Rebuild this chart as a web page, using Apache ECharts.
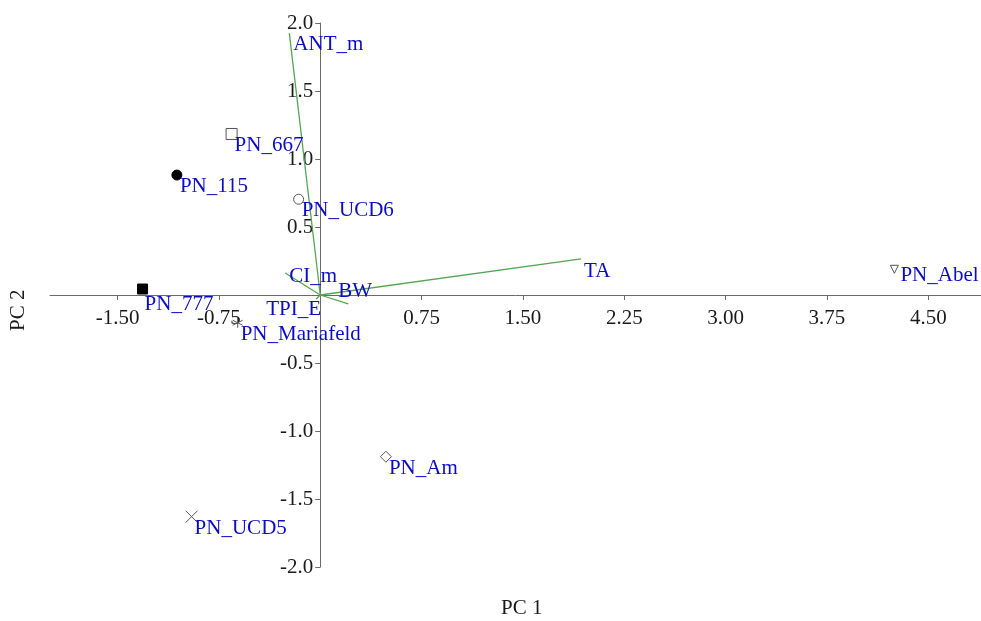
<!DOCTYPE html>
<html>
<head>
<meta charset="utf-8">
<script src="https://cdn.jsdelivr.net/npm/echarts@6/dist/echarts.min.js"></script>
<style>
html,body{margin:0;padding:0;background:#fff;}
#chart{width:981px;height:621px;}
</style>
</head>
<body>
<div id="chart"></div>
<script>
// ---- data ----
const sampleNames = ['PN_777', 'PN_115', 'PN_667', 'PN_UCD6', 'PN_Mariafeld', 'PN_UCD5', 'PN_Am', 'PN_Abel'];
const samplePC1 = [-1.315, -1.061, -0.656, -0.160, -0.611, -0.952, 0.486, 4.249];
const samplePC2 = [0.044, 0.882, 1.184, 0.704, -0.204, -1.630, -1.189, 0.189];

const loadingNames = ['ANT_m', 'TA', 'CI_m', 'BW', 'TPI_E'];
const loadingPC1 = [-0.229, 1.930, -0.259, 0.207, -0.030];
const loadingPC2 = [1.926, 0.265, 0.162, -0.066, -0.030];

const xTickValues = [-1.5, -0.75, 0.75, 1.5, 2.25, 3.0, 3.75, 4.5];
const yTickValues = [-2.0, -1.5, -1.0, -0.5, 0.5, 1.0, 1.5, 2.0];

// ---- styles ----
const FONT = '"Liberation Serif", "Times New Roman", serif';
const FS = 21;
const BLUE = '#0c0cc4';
const GREEN = '#55a555';
const X_MIN = -2, X_MAX = 4.89, Y_MIN = -2, Y_MAX = 2;
const GRID = {left: 50, top: 23, width: 931, height: 544};
// pixel offset of the zero lines from the grid's default axis positions
const xZeroShift = GRID.height * (0 - Y_MIN) / (Y_MAX - Y_MIN);
const yZeroShift = GRID.width * (0 - X_MIN) / (X_MAX - X_MIN);

const markerStyle = {
  'PN_777':       {symbol: 'rect', size: 10, fill: '#000', stroke: '#000'},
  'PN_115':       {symbol: 'circle', size: 10, fill: '#000', stroke: '#000'},
  'PN_667':       {symbol: 'rect', size: 11, fill: '#fff', stroke: '#555'},
  'PN_UCD6':      {symbol: 'circle', size: 10, fill: '#fff', stroke: '#555'},
  'PN_Mariafeld': {symbol: 'path://M5,0L5,10M0,2.5L10,7.5M0,7.5L10,2.5', size: 10, fill: 'transparent', stroke: '#555'},
  'PN_UCD5':      {symbol: 'path://M0,0L10,10M10,0L0,10', size: 12, fill: 'transparent', stroke: '#555'},
  'PN_Am':        {symbol: 'diamond', size: 11, fill: '#fff', stroke: '#555'},
  'PN_Abel':      {symbol: 'path://M0,0L10,0L5,9Z', size: 8, fill: '#fff', stroke: '#555'}
};
const sampleLabelOffset = {'PN_Abel': [6, -4], 'PN_777': [2, 5]};
const loadingLabelOffset = {
  'ANT_m': [4, 1], 'TA': [3, 2], 'CI_m': [4, -7], 'BW': [-10, -23], 'TPI_E': [-50, 0]
};

const sampleData = sampleNames.map((n, i) => {
  const st = markerStyle[n];
  return {
    name: n,
    value: [samplePC1[i], samplePC2[i]],
    symbol: st.symbol,
    symbolSize: st.size,
    itemStyle: {color: st.fill, borderColor: st.stroke, borderWidth: 1, opacity: 1},
    label: {offset: sampleLabelOffset[n] || [3, 1]}
  };
});

const loadingLineSeries = loadingNames.map((n, i) => ({
  type: 'line',
  name: n,
  data: [[0, 0], [loadingPC1[i], loadingPC2[i]]],
  symbol: 'none',
  lineStyle: {color: GREEN, width: 1.3},
  silent: true,
  z: 2
}));

const loadingLabelData = loadingNames.map((n, i) => ({
  name: n,
  value: [loadingPC1[i], loadingPC2[i]],
  label: {offset: loadingLabelOffset[n]}
}));

const labelBase = {
  show: true,
  position: 'inside',
  align: 'left',
  verticalAlign: 'top',
  formatter: p => p.name,
  color: BLUE,
  fontFamily: FONT,
  fontSize: FS
};

const chart = echarts.init(document.getElementById('chart'), null, {renderer: 'canvas'});
chart.setOption({
  animation: false,
  backgroundColor: '#fff',
  grid: {left: GRID.left, top: GRID.top, width: GRID.width, height: GRID.height, containLabel: false},
  xAxis: {
    type: 'value',
    position: 'bottom',
    offset: -xZeroShift,
    min: X_MIN,
    max: X_MAX,
    axisLine: {onZero: false, lineStyle: {color: '#6a6a6a', width: 1}},
    axisTick: {show: true, length: 5, customValues: xTickValues, lineStyle: {color: '#6a6a6a'}},
    axisLabel: {
      customValues: xTickValues,
      margin: 13,
      color: '#1a1a1a',
      fontFamily: FONT,
      fontSize: FS,
      formatter: v => v.toFixed(2)
    },
    splitLine: {show: false}
  },
  yAxis: {
    type: 'value',
    position: 'left',
    offset: -yZeroShift,
    min: Y_MIN,
    max: Y_MAX,
    axisLine: {onZero: false, lineStyle: {color: '#6a6a6a', width: 1}},
    axisTick: {show: true, length: 5, customValues: yTickValues, lineStyle: {color: '#6a6a6a'}},
    axisLabel: {
      customValues: yTickValues,
      margin: 7,
      color: '#1a1a1a',
      fontFamily: FONT,
      fontSize: FS,
      formatter: v => v.toFixed(1)
    },
    splitLine: {show: false}
  },
  graphic: [
    {type: 'text', left: 501, top: 598, style: {text: 'PC 1', font: FS + 'px ' + FONT, fill: '#1a1a1a'}},
    {type: 'text', x: 8, y: 331, rotation: Math.PI / 2, style: {text: 'PC 2', font: FS + 'px ' + FONT, fill: '#1a1a1a'}}
  ],
  series: [
    ...loadingLineSeries,
    {
      type: 'scatter',
      name: 'loadingLabels',
      data: loadingLabelData,
      symbolSize: 1,
      itemStyle: {color: 'transparent', opacity: 1},
      label: labelBase,
      z: 4
    },
    {
      type: 'scatter',
      name: 'samples',
      data: sampleData,
      label: labelBase,
      z: 5
    }
  ]
});
</script>
</body>
</html>
